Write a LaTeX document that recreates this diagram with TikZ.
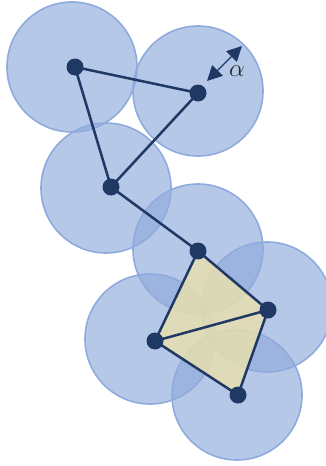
\documentclass[tikz,border=0pt]{standalone}
\usetikzlibrary{arrows.meta}
\definecolor{ballfill}{RGB}{143,170,220}
\definecolor{ballline}{RGB}{143,170,220}
\definecolor{navy}{RGB}{32,56,100}
\definecolor{sand}{RGB}{230,222,176}
\tikzset{
  ball/.style={circle, minimum size=130pt, inner sep=0pt, fill=ballfill, fill opacity=0.65, draw=ballline, draw opacity=1, line width=1.6pt},
  joint/.style={circle, fill=navy, minimum size=17pt, inner sep=0pt},
  bond/.style={draw=navy, line width=2.5pt},
}
\begin{document}
\begin{tikzpicture}[x=1pt, y=-1pt]
  \useasboundingbox (0,0) rectangle (326,466);
  % probe spheres
  \node[ball] (c1) at (72,67) {};
  \node[ball] (c2) at (198,91) {};
  \node[ball] (c3) at (106,188) {};
  \node[ball] (c4) at (198,249) {};
  \node[ball] (c5) at (267,307) {};
  \node[ball] (c6) at (150,339) {};
  \node[ball] (c7) at (237,395) {};
  % atom positions
  \coordinate (p1) at (75,67);
  \coordinate (p2) at (198,93);
  \coordinate (p3) at (111,187);
  \coordinate (p4) at (198,251);
  \coordinate (p5) at (268,310);
  \coordinate (p6) at (155,341);
  \coordinate (p7) at (238,395);
  % filled face
  \fill[sand, fill opacity=0.85] (p4) -- (p5) -- (p7) -- (p6) -- cycle;
  % bonds
  \draw[bond] (p1) -- (p2) -- (p3) -- cycle;
  \draw[bond] (p3) -- (p4);
  \draw[bond, line join=round] (p4) -- (p5) -- (p7) -- (p6) -- cycle;
  \draw[bond] (p6) -- (p5);
  % joints
  \foreach \i in {1,...,7} { \node[joint] (n\i) at (p\i) {}; }
  % radius marker
  \coordinate (a1) at (207,81);
  \coordinate (a2) at (242,46);
  \draw[draw=navy, line width=1.3pt,
        {Triangle[length=15pt,width=15pt,fill=navy]}-{Triangle[length=15pt,width=15pt,fill=navy]}]
        (a1) -- (a2);
  \node[text=black!85, font=\fontsize{25}{30}\selectfont] (alpha) at (237,71) {$\alpha$};
\end{tikzpicture}
\end{document}
